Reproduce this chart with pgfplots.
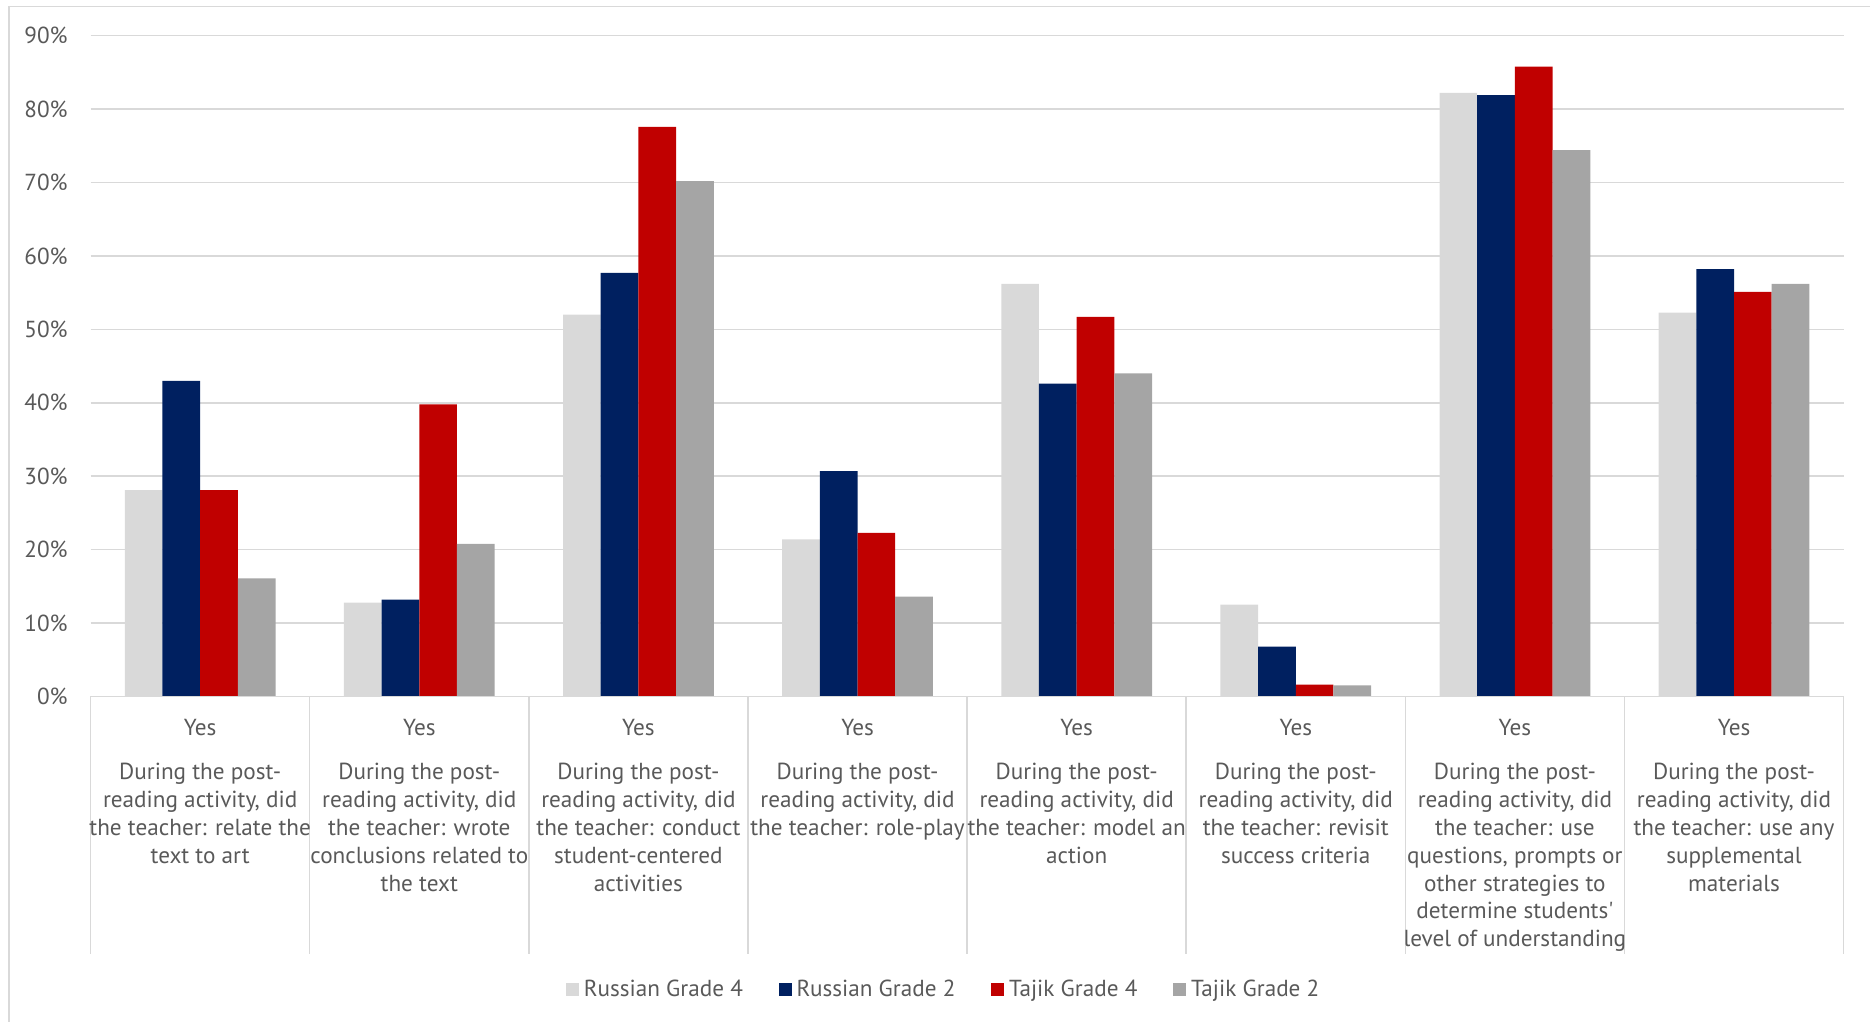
\documentclass[border=0pt]{standalone}
\usepackage{pgfplots}
\usepackage{pgfplotstable}
\pgfplotsset{compat=1.18}
\usepackage{fontspec}
\setmainfont{PT Sans}[Ligatures=TeXOff]

\definecolor{rusfour}{HTML}{D9D9D9}
\definecolor{rustwo}{HTML}{002060}
\definecolor{tajfour}{HTML}{C00000}
\definecolor{tajtwo}{HTML}{A5A5A5}
\definecolor{gridgray}{HTML}{D9D9D9}
\definecolor{labelgray}{HTML}{595959}

% share of teachers answering "Yes", in percent
\pgfplotstableread{
x  rusfour rustwo tajfour tajtwo
0  28.1    43.0   28.1    16.1
1  12.8    13.2   39.8    20.8
2  52.0    57.7   77.6    70.2
3  21.4    30.7   22.3    13.6
4  56.2    42.6   51.7    44.0
5  12.5    6.8    1.6     1.5
6  82.2    81.9   85.8    74.4
7  52.3    58.2   55.1    56.2
}\datatable

\begin{document}
\begin{tikzpicture}[x=1pt,y=1pt,
  catlabel/.style={font=\fontsize{11.6}{13.9}\selectfont, text=labelgray, align=center, anchor=north, inner sep=0pt, yshift=-33.3pt},
  yeslabel/.style={font=\fontsize{11.6}{13.9}\selectfont, text=labelgray, anchor=base, inner sep=0pt, yshift=-19.3pt}]
\useasboundingbox (0,0) rectangle (935,511);
\draw[gridgray, line width=0.75pt] (4.5,0) -- (4.5,507.8) -- (935,507.8);
\begin{axis}[
  at={(45.3pt,162.75pt)}, anchor=south west,
  scale only axis, width=876.5pt, height=330.4pt,
  clip=false,
  ybar=0pt, bar width=18.85pt,
  xmin=-0.5, xmax=7.5, ymin=0, ymax=90,
  ytick={0,10,...,90}, xtick=\empty,
  /pgf/number format/assume math mode=true,
  yticklabel={\pgfmathprintnumber{\tick}\%},
  y tick label style={font=\fontsize{11.6}{14}\selectfont, text=labelgray, inner sep=0pt, xshift=-11.3pt},
  major tick length=0pt,
  ymajorgrids, major grid style={gridgray, line width=0.75pt},
  axis line style={draw=none},
  legend columns=4,
  legend image code/.code={\fill[#1] (0pt,-3.25pt) rectangle (6.5pt,3.25pt);},
  legend style={draw=none, fill=none, at={(0.4875,-0.444)}, anchor=center,
    font=\fontsize{11.6}{14}\selectfont, text=labelgray,
    /tikz/every even column/.append style={column sep=15.5pt},
    nodes={inner xsep=2.4pt, inner ysep=0pt}},
]
\addplot[fill=rusfour, draw=none] table[x=x, y=rusfour] {\datatable};
\addplot[fill=rustwo, draw=none] table[x=x, y=rustwo] {\datatable};
\addplot[fill=tajfour, draw=none] table[x=x, y=tajfour] {\datatable};
\addplot[fill=tajtwo, draw=none] table[x=x, y=tajtwo] {\datatable};
\legend{Russian Grade 4, Russian Grade 2, Tajik Grade 4, Tajik Grade 2}

% category axis: base line and separators between groups
\draw[gridgray, line width=0.75pt] (axis cs:-0.5,0) -- (axis cs:7.5,0);
\pgfplotsinvokeforeach{-0.5,0.5,...,7.5}{
  \draw[gridgray, line width=0.75pt] (axis cs:#1,0) -- ++(0pt,-128.75pt);
}

\pgfplotsinvokeforeach{0,...,7}{
  \node[yeslabel] at (axis cs:#1,0) {Yes};
}
\node[catlabel] at (axis cs:0,0) {During the post-\\reading activity, did\\the teacher: relate the\\text to art};
\node[catlabel] at (axis cs:1,0) {During the post-\\reading activity, did\\the teacher: wrote\\conclusions related to\\the text};
\node[catlabel] at (axis cs:2,0) {During the post-\\reading activity, did\\the teacher: conduct\\student-centered\\activities};
\node[catlabel] at (axis cs:3,0) {During the post-\\reading activity, did\\the teacher: role-play};
\node[catlabel] at (axis cs:4,0) {During the post-\\reading activity, did\\the teacher: model an\\action};
\node[catlabel] at (axis cs:5,0) {During the post-\\reading activity, did\\the teacher: revisit\\success criteria};
\node[catlabel] at (axis cs:6,0) {During the post-\\reading activity, did\\the teacher: use\\questions, prompts or\\other strategies to\\determine students'\\level of understanding};
\node[catlabel] at (axis cs:7,0) {During the post-\\reading activity, did\\the teacher: use any\\supplemental\\materials};
\end{axis}
\end{tikzpicture}
\end{document}
